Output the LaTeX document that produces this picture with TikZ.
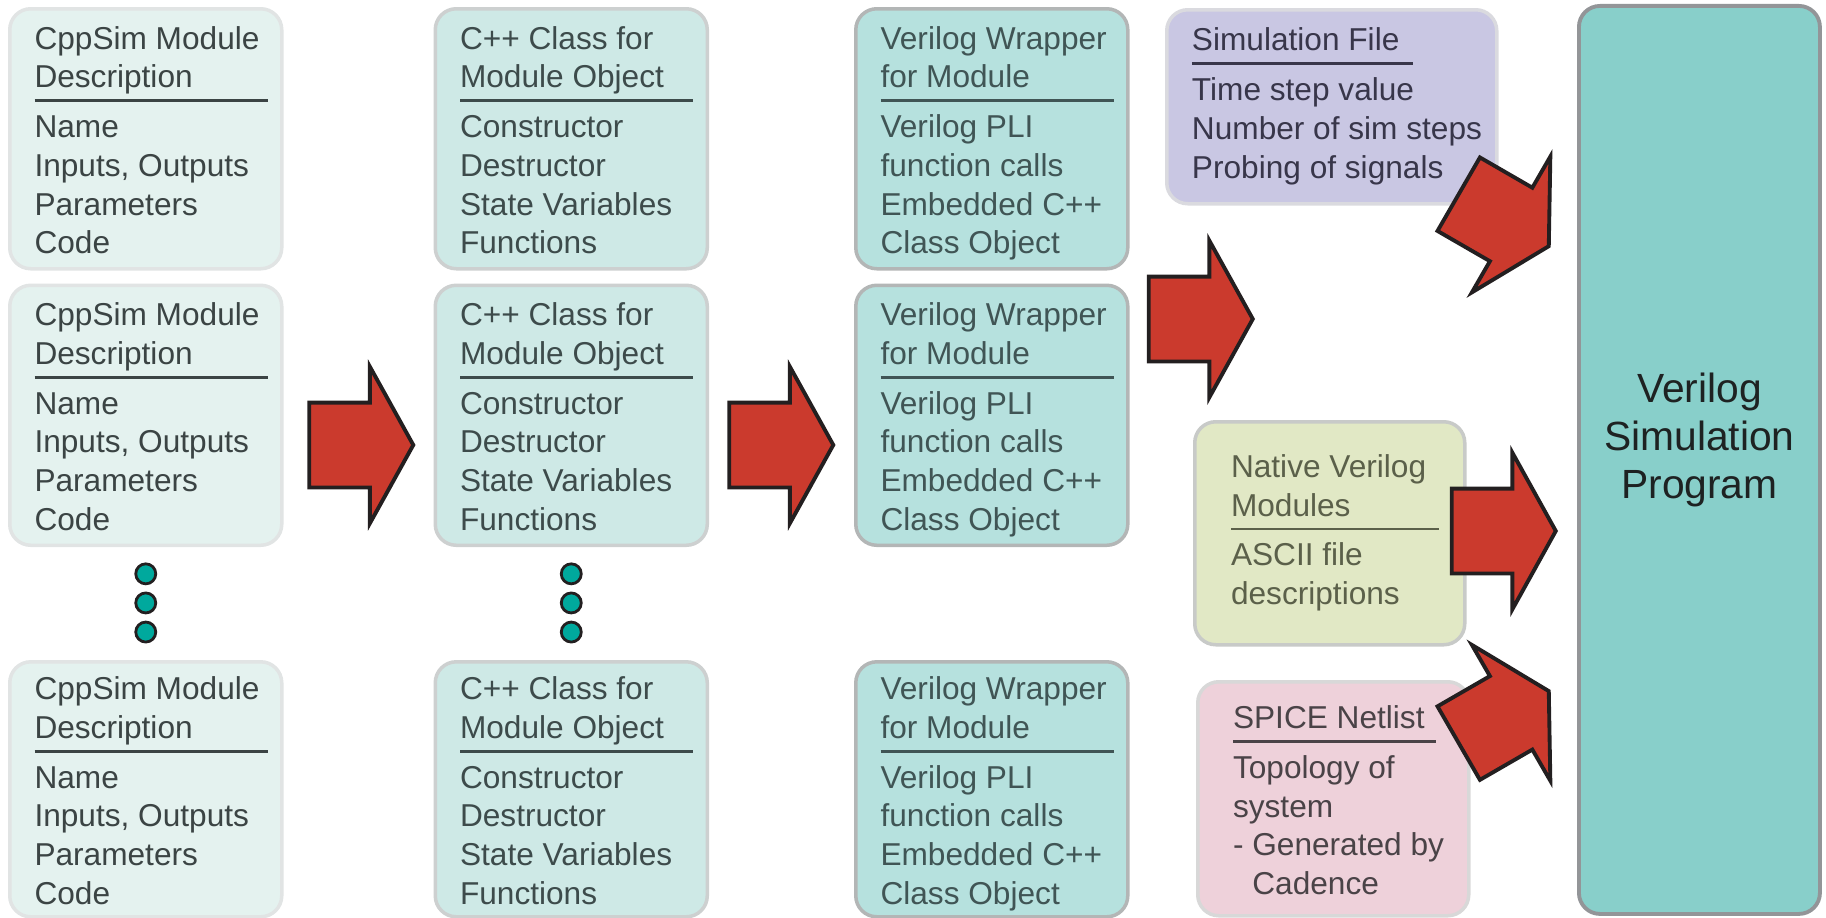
\documentclass[tikz,border=0pt]{standalone}
\usepackage{fontspec}
\setmainfont{Liberation Sans}
\usetikzlibrary{positioning}
\usetikzlibrary{shapes.arrows}

\definecolor{cppfill}{HTML}{E4F2EF}
\definecolor{cppline}{HTML}{E1E4E4}
\definecolor{cpptext}{HTML}{3B4444}
\definecolor{clsfill}{HTML}{CEE9E6}
\definecolor{clsline}{HTML}{CDD0D0}
\definecolor{clstext}{HTML}{3D4B4B}
\definecolor{vlgfill}{HTML}{B6E1DE}
\definecolor{vlgline}{HTML}{B3B6B6}
\definecolor{vlgtext}{HTML}{405555}
\definecolor{simfill}{HTML}{C9C7E3}
\definecolor{simline}{HTML}{DADADF}
\definecolor{simtext}{HTML}{38364A}
\definecolor{natfill}{HTML}{E1E8C5}
\definecolor{natline}{HTML}{C8CAC8}
\definecolor{nattext}{HTML}{5B604A}
\definecolor{spcfill}{HTML}{EED1DA}
\definecolor{spcline}{HTML}{D8D8D8}
\definecolor{spctext}{HTML}{4A4347}
\definecolor{progfill}{HTML}{88CFCA}
\definecolor{progline}{HTML}{939598}
\definecolor{progtxt}{HTML}{1E2222}
\definecolor{arrowred}{HTML}{CB3A2D}
\definecolor{arrowline}{HTML}{231F20}
\definecolor{dotteal}{HTML}{00A99D}

% title, rule, then the list
\newcommand{\boxlist}[4][0.1cm]{\begin{tabular}{@{}l@{}}\noalign{\vskip #1}#3\\\noalign{\hrule width #2 height 0.8pt\vskip 2.4pt}#4\end{tabular}}

\begin{document}
\begin{tikzpicture}[
  font=\fontsize{9}{11}\selectfont,
  listbox/.style={draw, rounded corners=0.21cm, line width=1pt, inner sep=0pt, execute at begin node={\hspace*{0.105cm}}},
  modbox/.style={listbox, minimum width=2.72cm, minimum height=2.60cm},
  cppbox/.style={modbox, fill=cppfill, draw=cppline, text=cpptext},
  clsbox/.style={modbox, fill=clsfill, draw=clsline, text=clstext},
  vlgbox/.style={modbox, fill=vlgfill, draw=vlgline, text=vlgtext},
  simbox/.style={listbox, fill=simfill, draw=simline, text=simtext, minimum width=3.30cm, minimum height=1.94cm, execute at begin node={}},
  natbox/.style={listbox, fill=natfill, draw=natline, text=nattext, minimum width=2.70cm, minimum height=2.23cm},
  spcbox/.style={listbox, fill=spcfill, draw=spcline, text=spctext, minimum width=2.71cm, minimum height=2.34cm},
  progbox/.style={draw=progline, fill=progfill, line width=1.1pt, rounded corners=0.21cm, minimum width=2.41cm, minimum height=9.08cm, inner sep=0pt},
  progtext/.style={align=center, text=progtxt, font=\fontsize{11.6}{13.7}\selectfont},
  bigarrow/.style={single arrow, draw=arrowline, fill=arrowred, line width=1.1pt, minimum height=1.04cm, single arrow head extend=0.36cm, single arrow tip angle=122, inner xsep=0pt, inner ysep=0.405cm, anchor=tip},
  vdot/.style={circle, draw=arrowline, fill=dotteal, line width=0.8pt, minimum size=0.2cm, inner sep=0pt}
]
\useasboundingbox (0,0) rectangle (18.26,-9.18);

% CppSim descriptions
\node[cppbox, anchor=north west] (cpp1) at (0.08,-0.07) {\boxlist{2.33cm}{CppSim Module\\Description}{Name\\Inputs, Outputs\\Parameters\\Code}};
\node[cppbox, below=0.13cm of cpp1] (cpp2) {\boxlist{2.33cm}{CppSim Module\\Description}{Name\\Inputs, Outputs\\Parameters\\Code}};
\node[cppbox, below=1.13cm of cpp2, minimum height=2.55cm] (cpp3) {\boxlist{2.33cm}{CppSim Module\\Description}{Name\\Inputs, Outputs\\Parameters\\Code}};

% C++ classes
\node[clsbox, right=1.50cm of cpp1] (cls1) {\boxlist{2.33cm}{C++ Class for\\Module Object}{Constructor\\Destructor\\State Variables\\Functions}};
\node[clsbox, right=1.50cm of cpp2] (cls2) {\boxlist{2.33cm}{C++ Class for\\Module Object}{Constructor\\Destructor\\State Variables\\Functions}};
\node[clsbox, right=1.50cm of cpp3, minimum height=2.55cm] (cls3) {\boxlist{2.33cm}{C++ Class for\\Module Object}{Constructor\\Destructor\\State Variables\\Functions}};

% Verilog wrappers
\node[vlgbox, right=1.45cm of cls1] (vlg1) {\boxlist{2.33cm}{Verilog Wrapper\\for Module}{Verilog PLI\\function calls\\Embedded C++\\Class Object}};
\node[vlgbox, right=1.45cm of cls2] (vlg2) {\boxlist{2.33cm}{Verilog Wrapper\\for Module}{Verilog PLI\\function calls\\Embedded C++\\Class Object}};
\node[vlgbox, right=1.45cm of cls3, minimum height=2.55cm] (vlg3) {\boxlist{2.33cm}{Verilog Wrapper\\for Module}{Verilog PLI\\function calls\\Embedded C++\\Class Object}};

% ellipsis dots
\node[vdot, below=0.154cm of cpp2] (cppdot1) {};
\node[vdot, below=0.063cm of cppdot1] (cppdot2) {};
\node[vdot, below=0.063cm of cppdot2] (cppdot3) {};
\node[vdot, below=0.154cm of cls2] (clsdot1) {};
\node[vdot, below=0.063cm of clsdot1] (clsdot2) {};
\node[vdot, below=0.063cm of clsdot2] (clsdot3) {};

% other inputs
\node[simbox, anchor=north west] (sim) at (11.65,-0.08) {\boxlist[0cm]{2.21cm}{Simulation File}{Time step value\\Number of sim steps\\Probing of signals}};
\node[natbox, anchor=north west] (native) at (11.93,-4.20) {\boxlist[0cm]{2.08cm}{Native Verilog\\Modules}{ASCII file\\descriptions}};
\node[spcbox, anchor=north west] (spice) at (11.96,-6.80) {\boxlist{2.03cm}{SPICE Netlist}{Topology of\\system\\- Generated by\\\phantom{- }Cadence}};

% simulator
\node[progbox, anchor=north west] (prog) at (15.77,-0.04) {};
\node[progtext] (progtitle) at ([yshift=0.20cm]prog.center) {Verilog\\Simulation\\Program};

% block arrows
\node[bigarrow] (arrcpp) at (4.155,-4.45) {};
\node[bigarrow] (arrcls) at (8.355,-4.45) {};
\node[bigarrow] (arrvlg) at (12.55,-3.19) {};
\node[bigarrow, rotate=-30] (arrsim) at (15.507,-2.473) {};
\node[bigarrow] (arrnat) at (15.58,-5.31) {};
\node[bigarrow, rotate=30] (arrspc) at (15.507,-6.90) {};

\end{tikzpicture}
\end{document}
